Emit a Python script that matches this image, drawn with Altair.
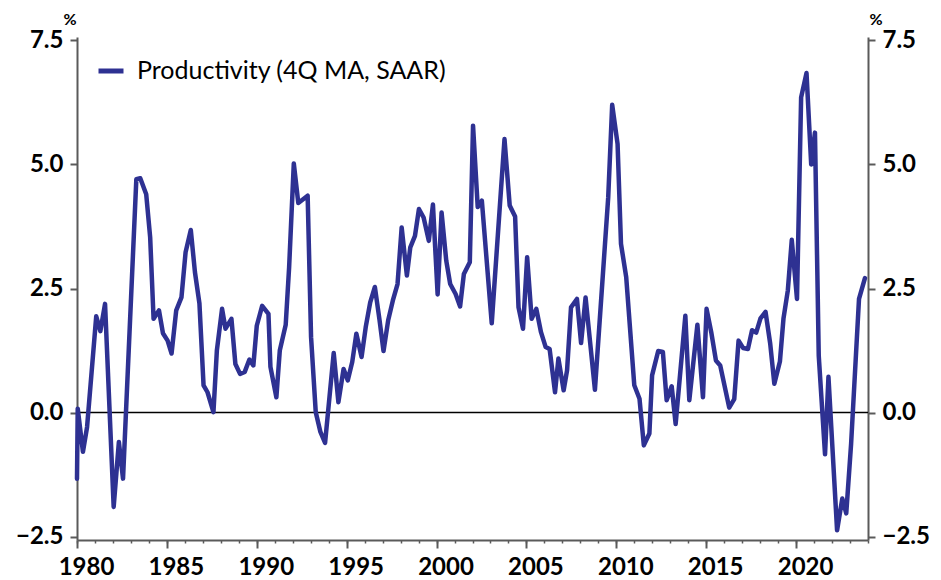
import altair as alt
import pandas as pd

series_name = "Productivity (4Q MA, SAAR)"

years = [
    1980.00, 1980.04, 1980.33, 1980.56, 1981.07, 1981.30, 1981.56, 1982.04, 1982.33, 1982.56,
    1983.30, 1983.52, 1983.85, 1984.07, 1984.26, 1984.56, 1984.78, 1985.04, 1985.26, 1985.52,
    1985.81, 1986.04, 1986.33, 1986.56, 1986.81, 1987.04, 1987.26, 1987.59, 1987.78, 1988.07,
    1988.26, 1988.59, 1988.81, 1989.07, 1989.33, 1989.59, 1989.81, 1990.00, 1990.30, 1990.65,
    1990.76, 1991.09, 1991.28, 1991.61, 1991.80, 1992.06, 1992.31, 1992.83, 1993.02, 1993.28,
    1993.54, 1993.80, 1994.28, 1994.54, 1994.83, 1995.06, 1995.31, 1995.54, 1995.83, 1996.06,
    1996.31, 1996.57, 1996.83, 1997.05, 1997.31, 1997.57, 1997.83, 1998.06, 1998.35, 1998.54,
    1998.80, 1999.02, 1999.28, 1999.57, 1999.80, 2000.06, 2000.28, 2000.54, 2000.76, 2001.06,
    2001.31, 2001.52, 2001.85, 2002.03, 2002.29, 2002.52, 2003.07, 2003.78, 2004.07, 2004.37,
    2004.56, 2004.81, 2005.04, 2005.29, 2005.55, 2005.81, 2006.07, 2006.29, 2006.59, 2006.78,
    2007.07, 2007.26, 2007.48, 2007.81, 2008.04, 2008.29, 2008.55, 2008.81, 2009.55, 2009.77,
    2010.07, 2010.26, 2010.55, 2011.00, 2011.29, 2011.53, 2011.84, 2011.99, 2012.33, 2012.59,
    2012.80, 2013.08, 2013.30, 2013.84, 2014.06, 2014.51, 2014.82, 2015.02, 2015.28, 2015.54,
    2015.78, 2016.28, 2016.56, 2016.80, 2017.06, 2017.32, 2017.55, 2017.78, 2018.02, 2018.30,
    2018.56, 2018.79, 2019.10, 2019.30, 2019.54, 2019.76, 2020.05, 2020.28, 2020.58, 2020.84,
    2021.05, 2021.26, 2021.61, 2021.80, 2022.28, 2022.57, 2022.79, 2023.06, 2023.50, 2023.83,
]

values = [
    -1.33, 0.08, -0.79, -0.29, 1.94, 1.64, 2.19, -1.90, -0.59, -1.33,
    4.70, 4.72, 4.40, 3.53, 1.89, 2.06, 1.60, 1.45, 1.19, 2.06,
    2.32, 3.23, 3.68, 2.83, 2.20, 0.55, 0.41, 0.01, 1.25, 2.09,
    1.69, 1.89, 0.98, 0.78, 0.82, 1.07, 0.95, 1.75, 2.15, 1.99,
    0.92, 0.31, 1.25, 1.77, 2.93, 5.02, 4.22, 4.37, 1.52, 0.01,
    -0.39, -0.61, 1.20, 0.21, 0.88, 0.65, 1.02, 1.59, 1.12, 1.72,
    2.22, 2.53, 1.86, 1.24, 1.86, 2.26, 2.59, 3.73, 2.76, 3.33,
    3.56, 4.10, 3.93, 3.46, 4.19, 2.38, 4.03, 3.06, 2.59, 2.39,
    2.14, 2.79, 3.03, 5.78, 4.14, 4.27, 1.80, 5.51, 4.17, 3.95,
    2.12, 1.69, 3.13, 1.89, 2.09, 1.62, 1.32, 1.28, 0.41, 1.09,
    0.45, 0.85, 2.12, 2.29, 1.40, 2.32, 1.39, 0.46, 4.34, 6.20,
    5.41, 3.40, 2.73, 0.55, 0.28, -0.66, -0.42, 0.75, 1.24, 1.22,
    0.25, 0.53, -0.23, 1.95, 0.25, 1.77, 0.31, 2.09, 1.62, 1.05,
    0.95, 0.10, 0.27, 1.45, 1.30, 1.28, 1.66, 1.61, 1.90, 2.03,
    1.39, 0.58, 1.03, 1.90, 2.46, 3.48, 2.29, 6.35, 6.84, 5.00,
    5.64, 1.15, -0.84, 0.72, -2.37, -1.73, -2.03, -0.63, 2.29, 2.71,
]

y_ticks = [-2.5, 0.0, 2.5, 5.0, 7.5]
x_major = [1980, 1985, 1990, 1995, 2000, 2005, 2010, 2015, 2020]
x_label_pos = [y + 0.5 for y in x_major]
x_minor = list(range(1980, 2025))
zero_level = [0.0]

df = pd.DataFrame({"year": years, "value": values, "series": series_name})
minor_df = pd.DataFrame({"year": x_minor})
zero_df = pd.DataFrame({"z": zero_level})

FONT = "Lato"
AXIS_GRAY = "#5a5a5a"
LINE_BLUE = "#2E3192"

xscale = alt.Scale(domain=[1980, 2024], nice=False, zero=False)
yscale = alt.Scale(domain=[-2.566, 7.566], nice=False, zero=False)

common_y_axis = dict(
    values=y_ticks, format=".1f", grid=False,
    labelFont=FONT, labelFontSize=24, labelFontWeight="bold", labelColor="black",
    tickSize=7, tickWidth=2, tickColor=AXIS_GRAY, labelPadding=7,
    domainColor=AXIS_GRAY, domainWidth=2,
    title="%", titleAngle=0, titleFont=FONT, titleFontSize=16, titleFontWeight="bold",
    titleColor="black", titleAlign="center", titleBaseline="alphabetic",
)

zero_rule = alt.Chart(zero_df).mark_rule(color="black", strokeWidth=1.5).encode(
    y=alt.Y("z:Q", scale=yscale,
            axis=alt.Axis(orient="right", titleX=7.5, titleY=-13, **common_y_axis)),
)

minor = alt.Chart(minor_df).mark_point(opacity=0).encode(
    x=alt.X("year:Q", scale=xscale,
            axis=alt.Axis(orient="bottom", values=x_minor, labels=False, domain=False,
                          grid=False, tickSize=3, tickWidth=1.5, tickColor=AXIS_GRAY,
                          title=None)),
    y=alt.value(0),
)

labels_layer = alt.Chart(minor_df).mark_point(opacity=0).encode(
    x=alt.X("year:Q", scale=xscale,
            axis=alt.Axis(orient="bottom", values=x_label_pos,
                          labelExpr="floor(datum.value)",
                          ticks=False, domain=False, grid=False, title=None,
                          labelFont=FONT, labelFontSize=24, labelFontWeight="bold",
                          labelColor="black", labelPadding=15, labelFlush=False)),
    y=alt.value(0),
)

line = alt.Chart(df).mark_line(strokeWidth=4.5, strokeJoin="round", strokeCap="round").encode(
    x=alt.X("year:Q", scale=xscale,
            axis=alt.Axis(orient="bottom", values=x_major, labels=False, grid=False,
                          title=None, tickSize=8, tickWidth=2, tickColor=AXIS_GRAY,
                          domainColor=AXIS_GRAY, domainWidth=2)),
    y=alt.Y("value:Q", scale=yscale,
            axis=alt.Axis(orient="left", titleX=-7.5, titleY=-13, **common_y_axis)),
    color=alt.Color("series:N", scale=alt.Scale(range=[LINE_BLUE]),
                    legend=alt.Legend(orient="none", legendX=19, legendY=19, title=None,
                                      symbolType="stroke", symbolSize=625,
                                      symbolStrokeWidth=5, labelFont=FONT,
                                      labelFontSize=25, labelColor="black",
                                      labelOffset=11, labelLimit=600)),
)

chart = alt.layer(zero_rule, minor, labels_layer, line).resolve_scale(
    x="independent", y="independent"
).properties(
    width=791, height=503,
    autosize=alt.AutoSizeParams(type="none"),
    padding={"left": 69, "top": 29, "right": 64, "bottom": 40},
).configure_view(stroke=None)

chart.save("out.html", embed_options={"renderer": "svg", "actions": False})
